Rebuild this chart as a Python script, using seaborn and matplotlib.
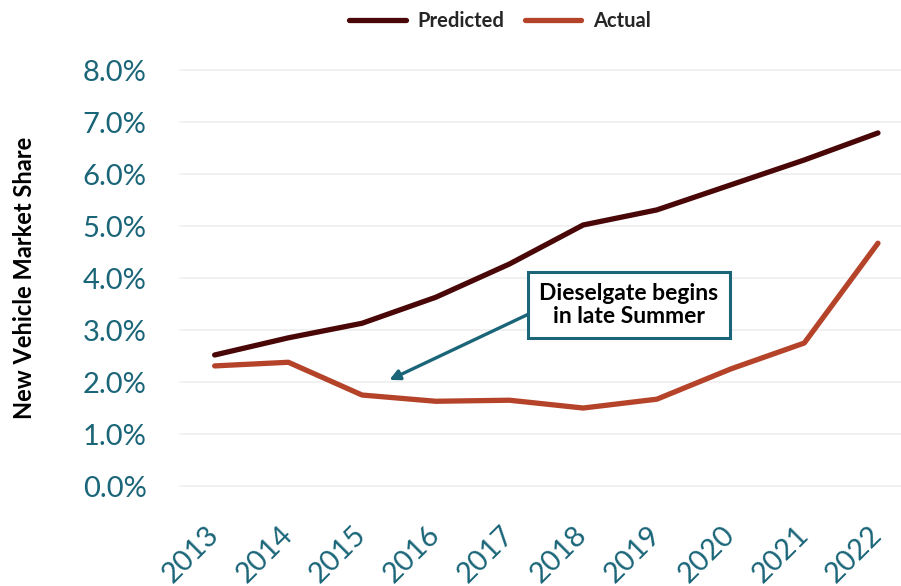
import matplotlib
matplotlib.use("Agg")
import matplotlib.pyplot as plt
import seaborn as sns
import pandas as pd

years = [2013, 2014, 2015, 2016, 2017, 2018, 2019, 2020, 2021, 2022]
predicted = [2.52, 2.85, 3.13, 3.63, 4.27, 5.02, 5.31, 5.79, 6.27, 6.79]
actual = [2.31, 2.38, 1.75, 1.63, 1.65, 1.50, 1.67, 2.25, 2.75, 4.67]
series_names = ["Predicted", "Actual"]
yticks = [0, 1, 2, 3, 4, 5, 6, 7, 8]
ytick_labels = [f"{v:.1f}%" for v in yticks]

df = pd.DataFrame({
    "Year": years * 2,
    "Share": predicted + actual,
    "Series": [series_names[0]] * len(years) + [series_names[1]] * len(years),
})

sns.set_theme(style="white")
plt.rcParams["font.family"] = ["Lato", "DejaVu Sans"]

teal = "#1a6578"
palette = {"Predicted": "#4a0707", "Actual": "#b5432a"}

fig = plt.figure(figsize=(9.01, 5.86), dpi=100)
ax = fig.add_axes([0.1998, 0.1706, 0.8, 0.7099])

sns.lineplot(data=df, x="Year", y="Share", hue="Series", palette=palette,
             linewidth=3.8, ax=ax, legend=False)

ax.set_xlim(2012.53, 2022.31)
ax.set_ylim(0, 8)
ax.set_yticks(yticks)
ax.set_yticklabels(ytick_labels)
ax.set_xticks(years)
ax.set_xticklabels([str(y) for y in years], rotation=45, ha="right",
                   rotation_mode="anchor", va="center")

for s in ax.spines.values():
    s.set_visible(False)
ax.grid(axis="y", color="#efefef", linewidth=1.2)
for gl in ax.get_ygridlines():
    gl.set_clip_on(False)
ax.tick_params(axis="y", colors=teal, labelsize=21, pad=24, length=0)
ax.tick_params(axis="x", colors=teal, labelsize=21, pad=32, length=0)
for lbl in ax.get_xticklabels() + ax.get_yticklabels():
    lbl.set_color(teal)

ax.set_xlabel("")
ax.set_ylabel("New Vehicle Market Share", fontsize=17, color="black", fontweight="bold")
ax.yaxis.set_label_coords(-0.2, 0.5)

handles = [plt.Line2D([0], [0], color=palette[n], linewidth=3.8) for n in series_names]
fig.legend(handles, series_names, loc="upper center", bbox_to_anchor=(0.555, 1.012),
           ncol=2, frameon=False, handlelength=2.8, handletextpad=0.6, columnspacing=1.0,
           prop={"size": 14.5, "weight": "bold"})

ax.text(2018.62, 3.48, "Dieselgate begins\nin late Summer",
        ha="center", va="center", fontsize=16.5, fontweight="bold", color="black",
        linespacing=1.1, zorder=5,
        bbox=dict(boxstyle="square,pad=0.5", fc="white", ec=teal, lw=2.2))
ax.annotate("", xy=(2015.37, 2.04), xytext=(2017.25, 3.30),
            arrowprops=dict(arrowstyle="-|>", color=teal, lw=2.4, mutation_scale=15,
                            shrinkA=0, shrinkB=0))

fig.savefig("out.png", dpi=100)
